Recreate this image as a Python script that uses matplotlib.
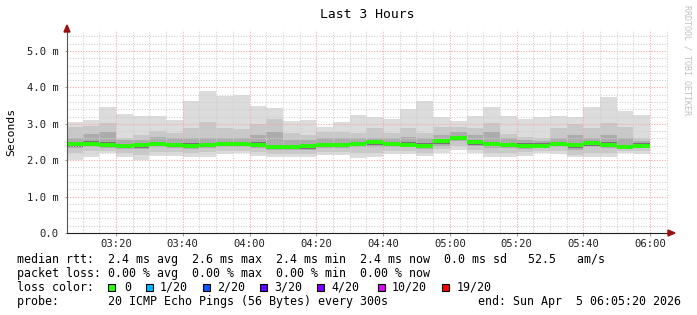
import matplotlib
matplotlib.use("Agg")
import matplotlib.pyplot as plt
from matplotlib.patches import Polygon, Rectangle

plt.rcParams['font.family'] = ['DejaVu Sans Mono', 'DejaVu Sans']

# ---------------- data (ms) ----------------
bin_starts = ["03:05", "03:10", "03:15", "03:20", "03:25", "03:30", "03:35",
              "03:40", "03:45", "03:50", "03:55", "04:00", "04:05", "04:10",
              "04:15", "04:20", "04:25", "04:30", "04:35", "04:40", "04:45",
              "04:50", "04:55", "05:00", "05:05", "05:10", "05:15", "05:20",
              "05:25", "05:30", "05:35", "05:40", "05:45", "05:50", "05:55"]
median = [2.44, 2.45, 2.42, 2.39, 2.41, 2.44, 2.41, 2.40, 2.41, 2.44, 2.45, 2.43,
          2.36, 2.36, 2.38, 2.41, 2.41, 2.45, 2.49, 2.44, 2.43, 2.40, 2.52, 2.62,
          2.49, 2.45, 2.42, 2.40, 2.40, 2.44, 2.42, 2.47, 2.43, 2.37, 2.40]
ping_max = [3.05, 3.11, 3.46, 3.27, 3.22, 3.22, 3.11, 3.63, 3.90, 3.75, 3.80, 3.49,
            3.43, 3.09, 3.10, 2.92, 3.05, 3.24, 3.18, 3.14, 3.41, 3.63, 3.20, 3.08,
            3.22, 3.46, 3.21, 3.14, 3.18, 3.22, 3.19, 3.45, 3.74, 3.36, 3.23]
hi1 = [2.92, 2.95, 3.03, 2.62, 2.69, 2.80, 2.75, 2.89, 3.06, 2.89, 2.85, 2.99,
       3.14, 2.74, 2.69, 2.78, 2.78, 2.74, 2.88, 2.74, 2.89, 2.74, 2.92, 2.92,
       2.89, 3.01, 2.71, 2.65, 2.60, 2.89, 2.99, 2.89, 3.01, 2.92, 2.60]
hi2 = [2.62, 2.72, 2.78, 2.55, 2.55, 2.65, 2.60, 2.62, 2.60, 2.60, 2.62, 2.69,
       2.78, 2.55, 2.55, 2.60, 2.60, 2.60, 2.60, 2.60, 2.65, 2.60, 2.69, 2.78,
       2.69, 2.78, 2.60, 2.55, 2.52, 2.60, 2.69, 2.60, 2.69, 2.60, 2.52]
hi3 = [2.50, 2.52, 2.50, 2.45, 2.47, 2.50, 2.47, 2.46, 2.47, 2.50, 2.51, 2.49,
       2.42, 2.42, 2.44, 2.47, 2.47, 2.51, 2.55, 2.50, 2.49, 2.46, 2.58, 2.67,
       2.55, 2.51, 2.48, 2.46, 2.46, 2.50, 2.48, 2.53, 2.49, 2.43, 2.46]
lo3 = [2.36, 2.38, 2.36, 2.33, 2.34, 2.38, 2.36, 2.34, 2.35, 2.38, 2.39, 2.36,
       2.30, 2.30, 2.31, 2.36, 2.36, 2.39, 2.42, 2.38, 2.38, 2.35, 2.45, 2.55,
       2.42, 2.38, 2.36, 2.35, 2.35, 2.38, 2.34, 2.40, 2.37, 2.32, 2.35]
lo2 = [2.33, 2.35, 2.33, 2.30, 2.30, 2.35, 2.33, 2.32, 2.33, 2.35, 2.35, 2.33,
       2.28, 2.27, 2.28, 2.33, 2.33, 2.35, 2.37, 2.35, 2.35, 2.32, 2.40, 2.52,
       2.38, 2.33, 2.33, 2.32, 2.33, 2.35, 2.28, 2.35, 2.33, 2.30, 2.33]
lo1 = [2.20, 2.25, 2.25, 2.20, 2.15, 2.22, 2.22, 2.20, 2.22, 2.25, 2.25, 2.22,
       2.18, 2.17, 2.18, 2.22, 2.22, 2.20, 2.20, 2.25, 2.25, 2.20, 2.30, 2.40,
       2.28, 2.20, 2.20, 2.22, 2.25, 2.25, 2.15, 2.20, 2.20, 2.25, 2.25]
ping_min = [2.00, 2.10, 2.19, 2.10, 2.00, 2.12, 2.12, 2.08, 2.10, 2.17, 2.19, 2.12,
            2.10, 2.08, 2.08, 2.15, 2.15, 2.06, 2.08, 2.17, 2.17, 2.12, 2.21, 2.28,
            2.19, 2.10, 2.08, 2.12, 2.19, 2.17, 2.08, 2.08, 2.10, 2.21, 2.17]

x_tick_labels = ["03:20", "03:40", "04:00", "04:20", "04:40",
                 "05:00", "05:20", "05:40", "06:00"]
y_ticks = [0, 1, 2, 3, 4, 5]
y_tick_labels = ["0.0", "1.0 m", "2.0 m", "3.0 m", "4.0 m", "5.0 m"]

loss_labels = ["0", "1/20", "2/20", "3/20", "4/20", "10/20", "19/20"]
loss_colors = ["#26ff00", "#00b8ff", "#0059ff", "#5e00ff", "#7e00ff", "#dd00ff", "#ff0000"]

legend_rtt = "median rtt:  2.4 ms avg  2.6 ms max  2.4 ms min  2.4 ms now  0.0 ms sd   52.5   am/s"
legend_loss = "packet loss: 0.00 % avg  0.00 % max  0.00 % min  0.00 % now"
probe_text = "probe:       20 ICMP Echo Pings (56 Bytes) every 300s"
end_text = "end: Sun Apr  5 06:05:20 2026"
title = "Last 3 Hours"

# ---------------- helpers ----------------
def tmin(s):
    parts = [int(p) for p in s.split(":")]
    v = parts[0] * 60 + parts[1]
    if len(parts) > 2:
        v += parts[2] / 60.0
    return v

W, H = 697, 315
fig = plt.figure(figsize=(W / 100, H / 100), dpi=100)
fig.patch.set_facecolor("white")

L, R, T, B = 67, 668, 30, 233
ax = fig.add_axes([L / W, (H - B) / H, (R - L) / W, (B - T) / H])
ax.set_facecolor("white")

x0 = tmin("03:05:20")
x1 = tmin("06:05:20")
ax.set_xlim(x0, x1)
ax.set_ylim(0, (B - T) / 36.4)

xs = [tmin(s) for s in bin_starts]
step = 5

layers = [
    (ping_min, ping_max, "#dcdcdc"),
    (lo1, hi1, "#c8c8c8"),
    (lo2, hi2, "#acacac"),
    (lo3, hi3, "#747474"),
]
for lo, hi, col in layers:
    ax.bar(xs, [h - l for h, l in zip(hi, lo)], bottom=lo, width=step,
           align="edge", color=col, linewidth=0, zorder=2)

ax.hlines(median, xs, [x + step for x in xs], colors="#26ff00",
          linewidth=2.8, capstyle="butt", zorder=5)

# grid
minor_col = "#d0d0d0"
major_col = "#f2a8a8"
dot = (0, (1.0, 1.4))
yv = 0.2
while yv < ax.get_ylim()[1]:
    is_major = abs(yv - round(yv)) < 1e-6
    ax.axhline(yv, color=major_col if is_major else minor_col, lw=0.8,
               ls=dot, zorder=4)
    yv += 0.2
major_x = [tmin(s) for s in x_tick_labels]
t = tmin("03:10")
while t < x1:
    is_major = any(abs(t - m) < 1e-6 for m in major_x)
    ax.axvline(t, color=major_col if is_major else minor_col, lw=0.8,
               ls=dot, zorder=4)
    t += 5

# axes / ticks
for s in ["top", "right"]:
    ax.spines[s].set_visible(False)
ax.spines["left"].set_color("#555555")
ax.spines["bottom"].set_color("#202020")
ax.spines["left"].set_linewidth(0.8)
ax.spines["bottom"].set_linewidth(0.8)
ax.spines["left"].set_zorder(6)
ax.spines["bottom"].set_zorder(6)

ax.set_yticks(y_ticks)
ax.set_yticklabels(y_tick_labels)
ax.set_xticks(major_x)
ax.set_xticklabels(x_tick_labels)
ax.tick_params(axis="y", length=1.8, width=0.7, color="#999999", pad=4.2,
               labelsize=7.6, labelcolor="#202020")
ax.tick_params(axis="x", length=1.8, width=0.7, color="#999999", pad=2.5,
               labelsize=7.6, labelcolor="#202020")

# arrows
def fx(px):
    return px / W

def fy(py):
    return (H - py) / H

arrow_col = "#9a1010"
fig.patches.append(Polygon([(fx(67), fy(25)), (fx(64), fy(32)), (fx(70), fy(32))],
                           closed=True, color=arrow_col, transform=fig.transFigure))
fig.patches.append(Polygon([(fx(675), fy(233)), (fx(668), fy(230)), (fx(668), fy(236))],
                           closed=True, color=arrow_col, transform=fig.transFigure))

# texts
fig.text(fx(367.5), fy(18.3), title, ha="center", va="baseline", fontsize=9.4,
         color="#000000")
fig.text(fx(11), fy(131.5), "Seconds", rotation=90, ha="center", va="center",
         fontsize=8.2, color="#000000")
fig.text(fx(687), fy(60), "RRDTOOL / TOBI OETIKER", rotation=270, ha="center",
         va="center", fontsize=6.0, color="#c0c0c0")

fs = 8.4
fig.text(fx(16.7), fy(263.3), legend_rtt, ha="left", va="baseline", fontsize=fs)
fig.text(fx(16.7), fy(277.0), legend_loss, ha="left", va="baseline", fontsize=fs)
fig.text(fx(16.7), fy(290.8), "loss color:", ha="left", va="baseline", fontsize=fs)
sq_x = [108.3, 145.7, 202.7, 260.0, 316.7, 377.7, 441.7]
lab_x = [124.0, 160.0, 217.3, 274.0, 331.7, 391.7, 456.7]
for sx, lx, lab, col in zip(sq_x, lab_x, loss_labels, loss_colors):
    fig.patches.append(Rectangle((fx(sx), fy(291.2)), 7 / W, 7 / H,
                                 facecolor=col, edgecolor="black", linewidth=0.8,
                                 transform=fig.transFigure))
    fig.text(fx(lx), fy(290.8), lab, ha="left", va="baseline", fontsize=fs)
fig.text(fx(16.7), fy(304.6), probe_text, ha="left", va="baseline", fontsize=fs)
fig.text(fx(478.3), fy(304.6), end_text, ha="left", va="baseline", fontsize=fs)

fig.savefig("out.png", dpi=100, facecolor="white")
